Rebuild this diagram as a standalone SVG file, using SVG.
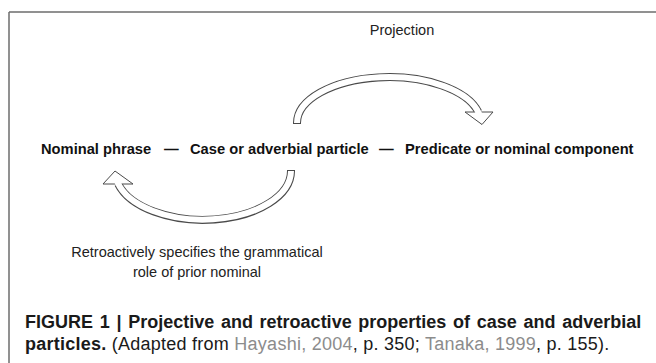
<svg xmlns="http://www.w3.org/2000/svg" width="656" height="363" viewBox="0 0 656 363">
  <style>
    .sans { font-family: "Liberation Sans", Arial, Helvetica, sans-serif; }
    .term { font-size: 14.7px; font-weight: bold; fill: #111; }
    .note { font-size: 14.5px; fill: #222; }
    .cap { font-size: 18px; fill: #1a1a1a; }
    .capb { font-weight: bold; }
    .ref { fill: #8c8c8c; }
    .frame { stroke: #6e6e6e; stroke-width: 1.5; fill: none; }
    .band-edge { fill: none; stroke: #4a4a4a; stroke-width: 8; stroke-linecap: butt; }
    .band-fill { fill: none; stroke: #fff; stroke-width: 6; stroke-linecap: butt; }
    .head { fill: #fff; stroke: #4a4a4a; stroke-width: 1; stroke-linejoin: miter; }
  </style>

  <rect width="656" height="363" fill="#fff"/>

  <!-- figure frame: top and left rules only -->
  <path class="frame" d="M9,12 H656 M9,12 V363"/>

  <!-- block arc arrows -->
  <g id="connectors">
    <g id="projection-arrow">
      <path class="band-edge" d="M297,124 L297,123 A92,46 0 0 1 478.3,112"/>
      <polygon class="head" points="465,112 493,112 482,124.5"/>
      <path class="band-fill" d="M297,123 A92,46 0 0 1 479.2,114"/>
    </g>
    <g id="retroactive-arrow">
      <path class="band-edge" d="M291,170 L291,171 A88,49 0 0 1 118.2,184"/>
      <polygon class="head" points="103,184 133,184 115,171"/>
      <path class="band-fill" d="M291,171 A88,49 0 0 1 117.4,182"/>
    </g>
  </g>

  <!-- main sequence -->
  <g id="nominal-phrase">
    <text class="sans term" x="41" y="154">Nominal phrase</text>
  </g>
  <text class="sans term" x="164" y="154">—</text>
  <g id="case-particle">
    <text class="sans term" x="190" y="154">Case or adverbial particle</text>
  </g>
  <text class="sans term" x="379" y="154">—</text>
  <g id="predicate">
    <text class="sans term" x="405" y="154">Predicate or nominal component</text>
  </g>

  <!-- arrow labels -->
  <g id="projection-label">
    <text class="sans note" x="402" y="35" text-anchor="middle">Projection</text>
  </g>
  <g id="retroactive-label">
    <text class="sans note" x="197" y="257" text-anchor="middle">Retroactively specifies the grammatical</text>
    <text class="sans note" x="197" y="277" text-anchor="middle">role of prior nominal</text>
  </g>

  <!-- caption -->
  <g id="caption">
    <text class="sans cap capb" x="25" y="328" word-spacing="1.7">FIGURE 1 | Projective and retroactive properties of case and adverbial</text>
    <text class="sans cap" x="25" y="350" letter-spacing="0.25"><tspan class="capb">particles.</tspan> (Adapted from <tspan class="ref">Hayashi, 2004</tspan>, p. 350; <tspan class="ref">Tanaka, 1999</tspan>, p. 155).</text>
  </g>
</svg>
